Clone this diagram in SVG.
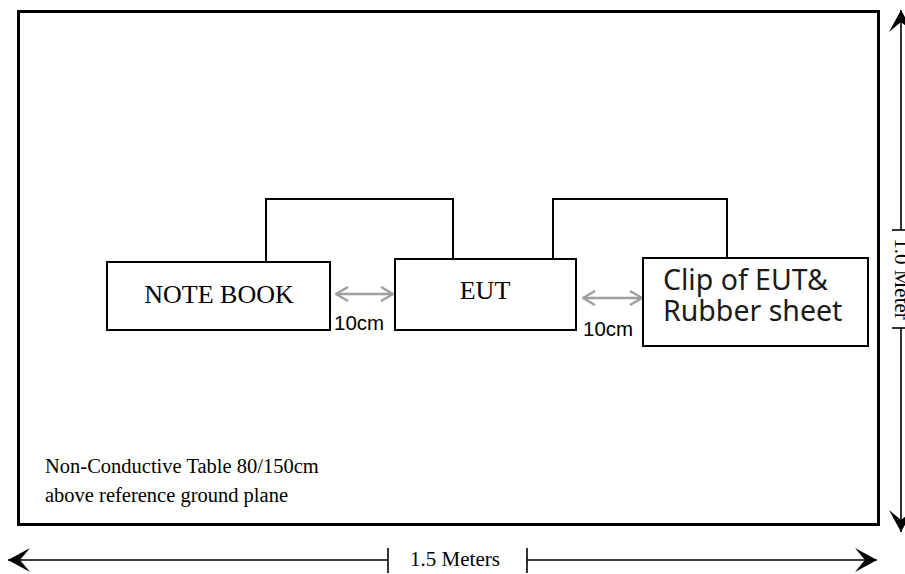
<svg xmlns="http://www.w3.org/2000/svg" width="905" height="574" viewBox="0 0 905 574">
  <style>
    .box { fill: #ffffff; stroke: #000000; stroke-width: 2; }
    .wire { fill: none; stroke: #000000; stroke-width: 2; }
    .dim { fill: none; stroke: #000000; stroke-width: 1.6; }
    .gap { fill: none; stroke: #a0a0a0; stroke-width: 2.5; }
    .serif { font-family: "Liberation Serif", "Times New Roman", serif; fill: #000000; }
    .sans { font-family: "Liberation Sans", Arial, sans-serif; fill: #000000; }
    .clip { font-family: "Noto Sans", "Open Sans", sans-serif; fill: #1a1a1a; }
  </style>
  <defs>
    <marker id="bigArrow" viewBox="0 0 22 24" refX="22" refY="12" markerWidth="22" markerHeight="24" markerUnits="userSpaceOnUse" orient="auto-start-reverse">
      <path d="M0,0 L22,12 L0,24 L10,12 Z" fill="#000000"/>
    </marker>
    <marker id="grayArrow" viewBox="0 0 14 16" refX="13" refY="8" markerWidth="14" markerHeight="16" markerUnits="userSpaceOnUse" orient="auto-start-reverse">
      <path d="M1,1 L13,8 L1,15" fill="none" stroke="#a0a0a0" stroke-width="2.5"/>
    </marker>
  </defs>
  <rect width="905" height="574" fill="#ffffff"/>

  <g id="table">
    <rect x="18.5" y="11.5" width="860" height="513" fill="#ffffff" stroke="#000000" stroke-width="3"/>
    <text class="serif" x="45" y="473" font-size="20.5">Non-Conductive Table 80/150cm</text>
    <text class="serif" x="45" y="502" font-size="20.5">above reference ground plane</text>
  </g>

  <g id="connectors">
    <polyline class="wire" points="266,262 266,199 453,199 453,259"/>
    <polyline class="wire" points="553,259 553,199 727,199 727,258"/>
    <line class="gap" x1="336" y1="294" x2="393" y2="294" marker-start="url(#grayArrow)" marker-end="url(#grayArrow)"/>
    <line class="gap" x1="583" y1="298" x2="642" y2="298" marker-start="url(#grayArrow)" marker-end="url(#grayArrow)"/>
  </g>

  <g id="notebook">
    <rect class="box" x="107" y="262" width="223" height="68"/>
    <text class="serif" x="219" y="303" font-size="26" text-anchor="middle">NOTE BOOK</text>
  </g>

  <g id="eut">
    <rect class="box" x="395" y="259" width="181" height="71"/>
    <text class="serif" x="485" y="299" font-size="26" text-anchor="middle">EUT</text>
  </g>

  <g id="clip">
    <rect class="box" x="643" y="258" width="225" height="88"/>
    <text class="clip" font-size="28.5"><tspan x="663" y="290">Clip of EUT&amp;</tspan><tspan x="663" y="321">Rubber sheet</tspan></text>
  </g>

  <g id="gap-labels">
    <text class="sans" x="334" y="330" font-size="20.5">10cm</text>
    <text class="sans" x="583" y="336" font-size="20.5">10cm</text>
  </g>

  <g id="dim-width">
    <line class="dim" x1="388" y1="560" x2="8" y2="560" marker-end="url(#bigArrow)"/>
    <line class="dim" x1="388" y1="548" x2="388" y2="573"/>
    <text class="serif" x="455" y="566" font-size="21" text-anchor="middle">1.5 Meters</text>
    <line class="dim" x1="527" y1="548" x2="527" y2="573"/>
    <line class="dim" x1="527" y1="560" x2="877" y2="560" marker-end="url(#bigArrow)"/>
  </g>

  <g id="dim-depth">
    <line class="dim" x1="901" y1="230" x2="901" y2="10" marker-end="url(#bigArrow)"/>
    <line class="dim" x1="892" y1="230" x2="905" y2="230"/>
    <text class="serif" transform="translate(895,279) rotate(90)" x="0" y="0" font-size="21" text-anchor="middle">1.0 Meter</text>
    <line class="dim" x1="892" y1="328" x2="905" y2="328"/>
    <line class="dim" x1="901" y1="328" x2="901" y2="532" marker-end="url(#bigArrow)"/>
  </g>
</svg>
